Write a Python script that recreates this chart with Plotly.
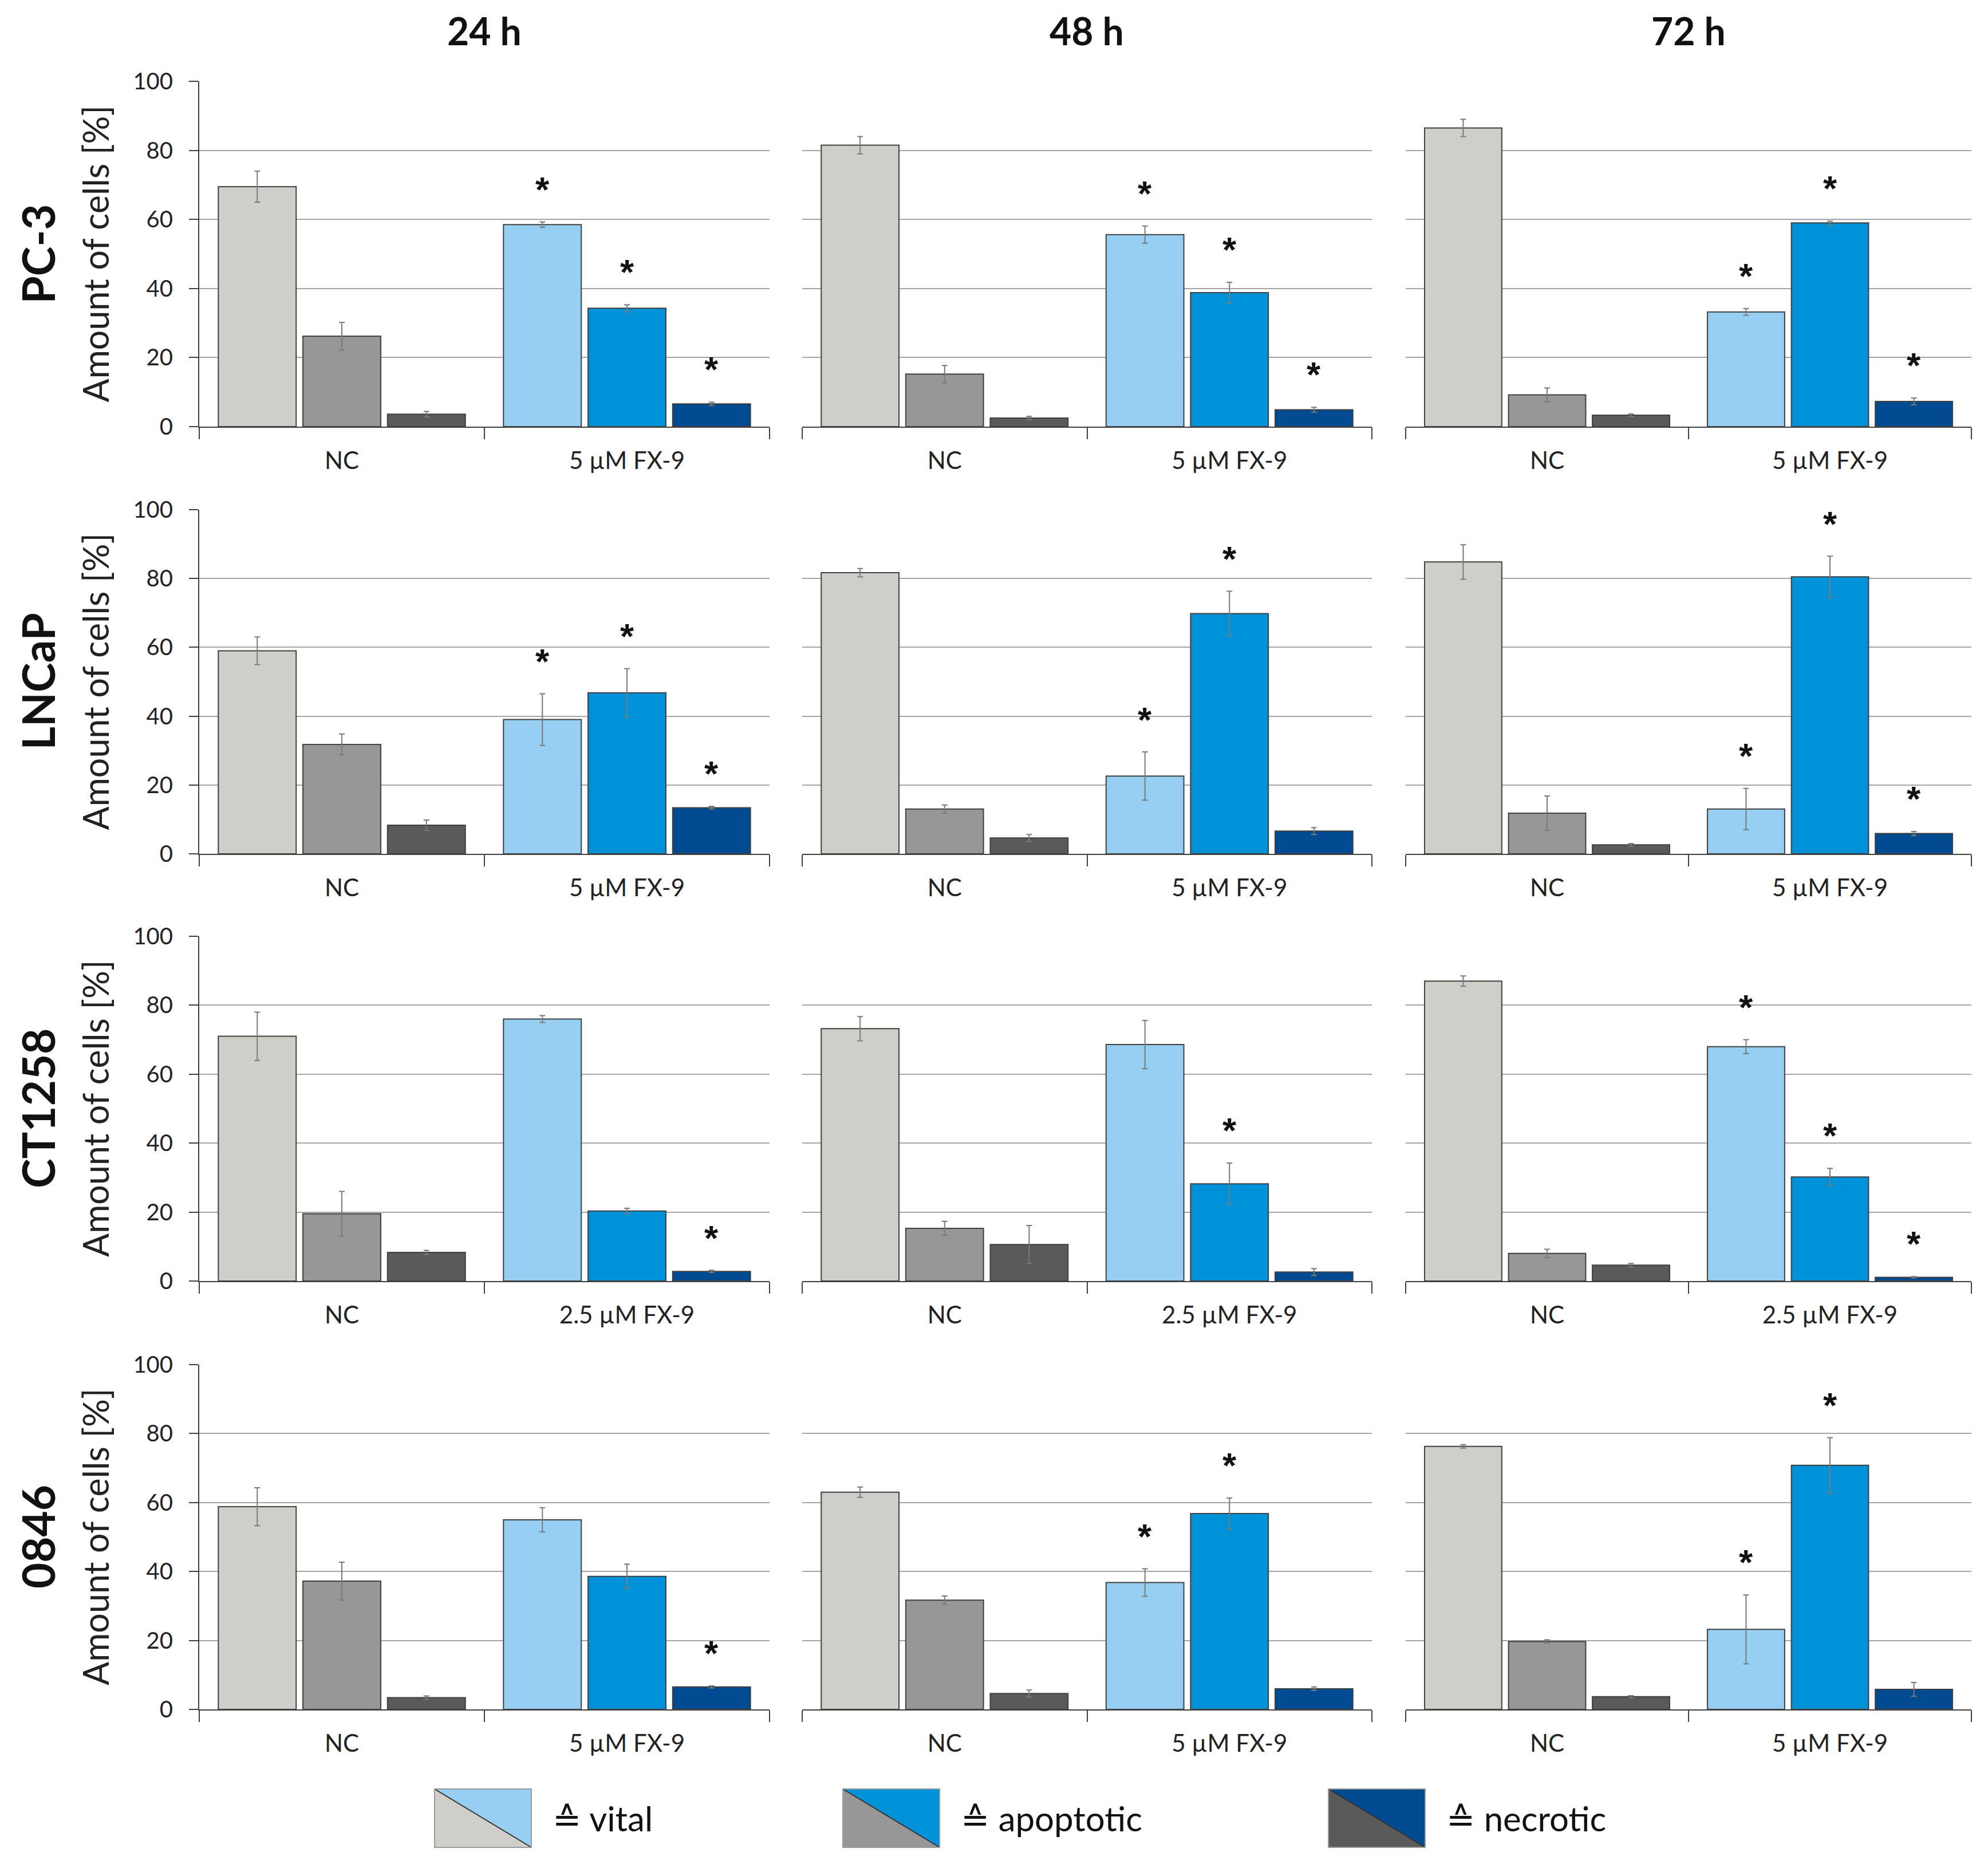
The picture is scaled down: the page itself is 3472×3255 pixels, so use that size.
import plotly.graph_objects as go

# ---------------- data ----------------
TIMES = ["24 h", "48 h", "72 h"]
CELL_LINES = ["PC-3", "LNCaP", "CT1258", "0846"]
TREATMENTS = ["5 µM FX-9", "5 µM FX-9", "2.5 µM FX-9", "5 µM FX-9"]
CONTROL = "NC"
STATES = ["vital", "apoptotic", "necrotic"]

# each list: per time point (24 h, 48 h, 72 h) -> [vital, apoptotic, necrotic]
PC3_NC = [[69.5, 26.2, 3.6], [81.5, 15.2, 2.5], [86.5, 9.2, 3.3]]
PC3_NC_ERR = [[4.5, 4.0, 0.8], [2.5, 2.5, 0.5], [2.5, 2.0, 0.4]]
PC3_FX = [[58.5, 34.3, 6.6], [55.6, 38.8, 4.9], [33.2, 59.0, 7.3]]
PC3_FX_ERR = [[0.8, 1.0, 0.5], [2.5, 3.0, 0.7], [1.0, 0.5, 1.0]]
PC3_SIG = [[1, 1, 1], [1, 1, 1], [1, 1, 1]]

LNCAP_NC = [[59.0, 31.8, 8.3], [81.7, 13.0, 4.6], [84.8, 11.8, 2.6]]
LNCAP_NC_ERR = [[4.0, 3.0, 1.5], [1.2, 1.2, 1.0], [5.0, 5.0, 0.4]]
LNCAP_FX = [[39.0, 46.8, 13.4], [22.6, 69.8, 6.6], [13.0, 80.5, 5.9]]
LNCAP_FX_ERR = [[7.5, 7.0, 0.4], [7.0, 6.5, 1.0], [6.0, 6.0, 0.6]]
LNCAP_SIG = [[1, 1, 1], [1, 1, 0], [1, 1, 1]]

CT1258_NC = [[71.0, 19.5, 8.3], [73.2, 15.3, 10.6], [87.0, 8.0, 4.6]]
CT1258_NC_ERR = [[7.0, 6.5, 0.6], [3.5, 2.0, 5.5], [1.5, 1.2, 0.5]]
CT1258_FX = [[76.0, 20.3, 2.8], [68.6, 28.2, 2.6], [68.0, 30.2, 1.1]]
CT1258_FX_ERR = [[1.0, 0.8, 0.3], [7.0, 6.0, 1.0], [2.0, 2.5, 0.2]]
CT1258_SIG = [[0, 0, 1], [0, 1, 0], [1, 1, 1]]

D0846_NC = [[58.8, 37.2, 3.4], [63.0, 31.7, 4.6], [76.3, 19.7, 3.7]]
D0846_NC_ERR = [[5.5, 5.5, 0.5], [1.5, 1.2, 1.0], [0.5, 0.5, 0.3]]
D0846_FX = [[55.0, 38.6, 6.5], [36.8, 56.8, 6.0], [23.2, 70.8, 5.8]]
D0846_FX_ERR = [[3.5, 3.5, 0.3], [4.0, 4.5, 0.5], [10.0, 8.0, 2.0]]
D0846_SIG = [[0, 0, 1], [1, 1, 0], [1, 1, 0]]

Y_TICKS = [0, 20, 40, 60, 80, 100]

# ---------------- style ----------------
NC_COLORS = ["#cfcec9", "#979797", "#5a5a5a"]
FX_COLORS = ["#96cff2", "#0092d9", "#004b90"]
W, H = 3472, 3255
OFF = 8  # page margin compensation (px)
COL_X = [(348, 1344), (1401, 2396), (2455, 3443)]
ROW_Y = [(142, 745), (890, 1491), (1635, 2237), (2383, 2985)]
BARGAP = 0.11
BARGROUPGAP = 0.08
FONT = "Lato, 'Open Sans', sans-serif"


def xp(px):
    return (px - OFF) / W


def yp(py):
    return 1 - (py - OFF) / H


datasets = [
    (PC3_NC, PC3_NC_ERR, PC3_FX, PC3_FX_ERR, PC3_SIG),
    (LNCAP_NC, LNCAP_NC_ERR, LNCAP_FX, LNCAP_FX_ERR, LNCAP_SIG),
    (CT1258_NC, CT1258_NC_ERR, CT1258_FX, CT1258_FX_ERR, CT1258_SIG),
    (D0846_NC, D0846_NC_ERR, D0846_FX, D0846_FX_ERR, D0846_SIG),
]

fig = go.Figure()
layout = {}
annotations = []
shapes = []

for r in range(4):
    nc, nc_err, fx, fx_err, sig = datasets[r]
    cats = [CONTROL, TREATMENTS[r]]
    for c in range(3):
        idx = r * 3 + c + 1
        xa = "x" if idx == 1 else f"x{idx}"
        ya = "y" if idx == 1 else f"y{idx}"
        xkey = "xaxis" if idx == 1 else f"xaxis{idx}"
        ykey = "yaxis" if idx == 1 else f"yaxis{idx}"
        for s in range(3):
            fig.add_trace(go.Bar(
                x=cats,
                y=[nc[c][s], fx[c][s]],
                name=STATES[s],
                error_y=dict(type="data", array=[nc_err[c][s], fx_err[c][s]],
                             color="#7a7a7a", thickness=2, width=5),
                marker=dict(color=[NC_COLORS[s], FX_COLORS[s]],
                            line=dict(color="#404040", width=2)),
                xaxis=xa, yaxis=ya, showlegend=False,
            ))
            if sig[c][s]:
                annotations.append(dict(
                    x=1 + (s - 1) * (1 - BARGAP) / 3,
                    y=fx[c][s] + fx_err[c][s] + 9.5,
                    xref=xa, yref=ya, text="<b>*</b>", showarrow=False,
                    xanchor="center", yanchor="middle",
                    font=dict(family="Liberation Sans, Arial", size=62, color="#111"),
                ))
        x0, x1 = COL_X[c]
        y0, y1 = ROW_Y[r]
        layout[xkey] = dict(
            domain=[xp(x0), xp(x1)], anchor=ya, range=[-0.5, 1.5],
            showline=True, linecolor="#404040", linewidth=2,
            ticks="outside", tickson="boundaries", ticklen=20, tickwidth=2,
            tickcolor="#404040", showgrid=False, zeroline=False,
            tickfont=dict(family=FONT, size=42, color="#222"),
            ticklabelstandoff=22, automargin=False,
        )
        ycfg = dict(
            domain=[yp(y1), yp(y0)], anchor=xa, range=[0, 100],
            tickvals=Y_TICKS, showgrid=True, gridcolor="#a6a6a6", gridwidth=2,
            zeroline=False, automargin=False,
        )
        if c == 0:
            ycfg.update(showline=True, linecolor="#404040", linewidth=2,
                        ticks="outside", ticklen=16, tickwidth=2, tickcolor="#404040",
                        tickfont=dict(family=FONT, size=40, color="#222"),
                        ticklabelstandoff=20)
        else:
            ycfg.update(showline=False, showticklabels=False, ticks="")
        layout[ykey] = ycfg

# column titles
for c in range(3):
    x0, x1 = COL_X[c]
    annotations.append(dict(
        x=(xp(x0) + xp(x1)) / 2, y=yp(53), xref="paper", yref="paper",
        xanchor="center", yanchor="middle",
        text=f"<b>{TIMES[c]}</b>", showarrow=False,
        font=dict(family=FONT, size=66, color="#111"),
    ))

# row labels
for r in range(4):
    y0, y1 = ROW_Y[r]
    yc = yp((y0 + y1) / 2)
    annotations.append(dict(
        x=xp(66), y=yc, xref="paper", yref="paper", textangle=-90,
        xanchor="center", yanchor="middle",
        text=f"<b>{CELL_LINES[r]}</b>", showarrow=False,
        font=dict(family=FONT, size=78, color="#111"),
    ))
    annotations.append(dict(
        x=xp(166), y=yc, xref="paper", yref="paper", textangle=-90,
        xanchor="center", yanchor="middle",
        text="Amount of cells [%]", showarrow=False,
        font=dict(family=FONT, size=61, color="#222"),
    ))

# custom legend (split swatches gray / blue)
LEG_X = [759, 1472, 2320]
LEG_TXT_X = [963, 1676, 2524]
sy0, sy1 = yp(3226), yp(3124)
for s in range(3):
    sx0 = xp(LEG_X[s])
    sx1 = xp(LEG_X[s] + 169)
    shapes.append(dict(type="path", xref="paper", yref="paper",
                       path=f"M {sx0},{sy1} L {sx1},{sy0} L {sx0},{sy0} Z",
                       fillcolor=NC_COLORS[s], line=dict(width=0)))
    shapes.append(dict(type="path", xref="paper", yref="paper",
                       path=f"M {sx0},{sy1} L {sx1},{sy1} L {sx1},{sy0} Z",
                       fillcolor=FX_COLORS[s], line=dict(width=0)))
    shapes.append(dict(type="line", xref="paper", yref="paper",
                       x0=sx0, y0=sy1, x1=sx1, y1=sy0,
                       line=dict(color="#333", width=2)))
    shapes.append(dict(type="rect", xref="paper", yref="paper",
                       x0=sx0, y0=sy0, x1=sx1, y1=sy1,
                       line=dict(color="#9a9a9a", width=2)))
    annotations.append(dict(
        x=xp(LEG_TXT_X[s]), y=yp(3175), xref="paper", yref="paper",
        xanchor="left", yanchor="middle", showarrow=False,
        text=f"≙ {STATES[s]}",
        font=dict(family="Lato, 'DejaVu Sans', sans-serif", size=60, color="#111"),
    ))

fig.update_layout(
    width=W, height=H, margin=dict(l=0, r=0, t=0, b=0, pad=0, autoexpand=False),
    paper_bgcolor="white", plot_bgcolor="white",
    barmode="group", bargap=BARGAP, bargroupgap=BARGROUPGAP,
    annotations=annotations, shapes=shapes, showlegend=False,
    **layout,
)

fig.write_html("out.html")
